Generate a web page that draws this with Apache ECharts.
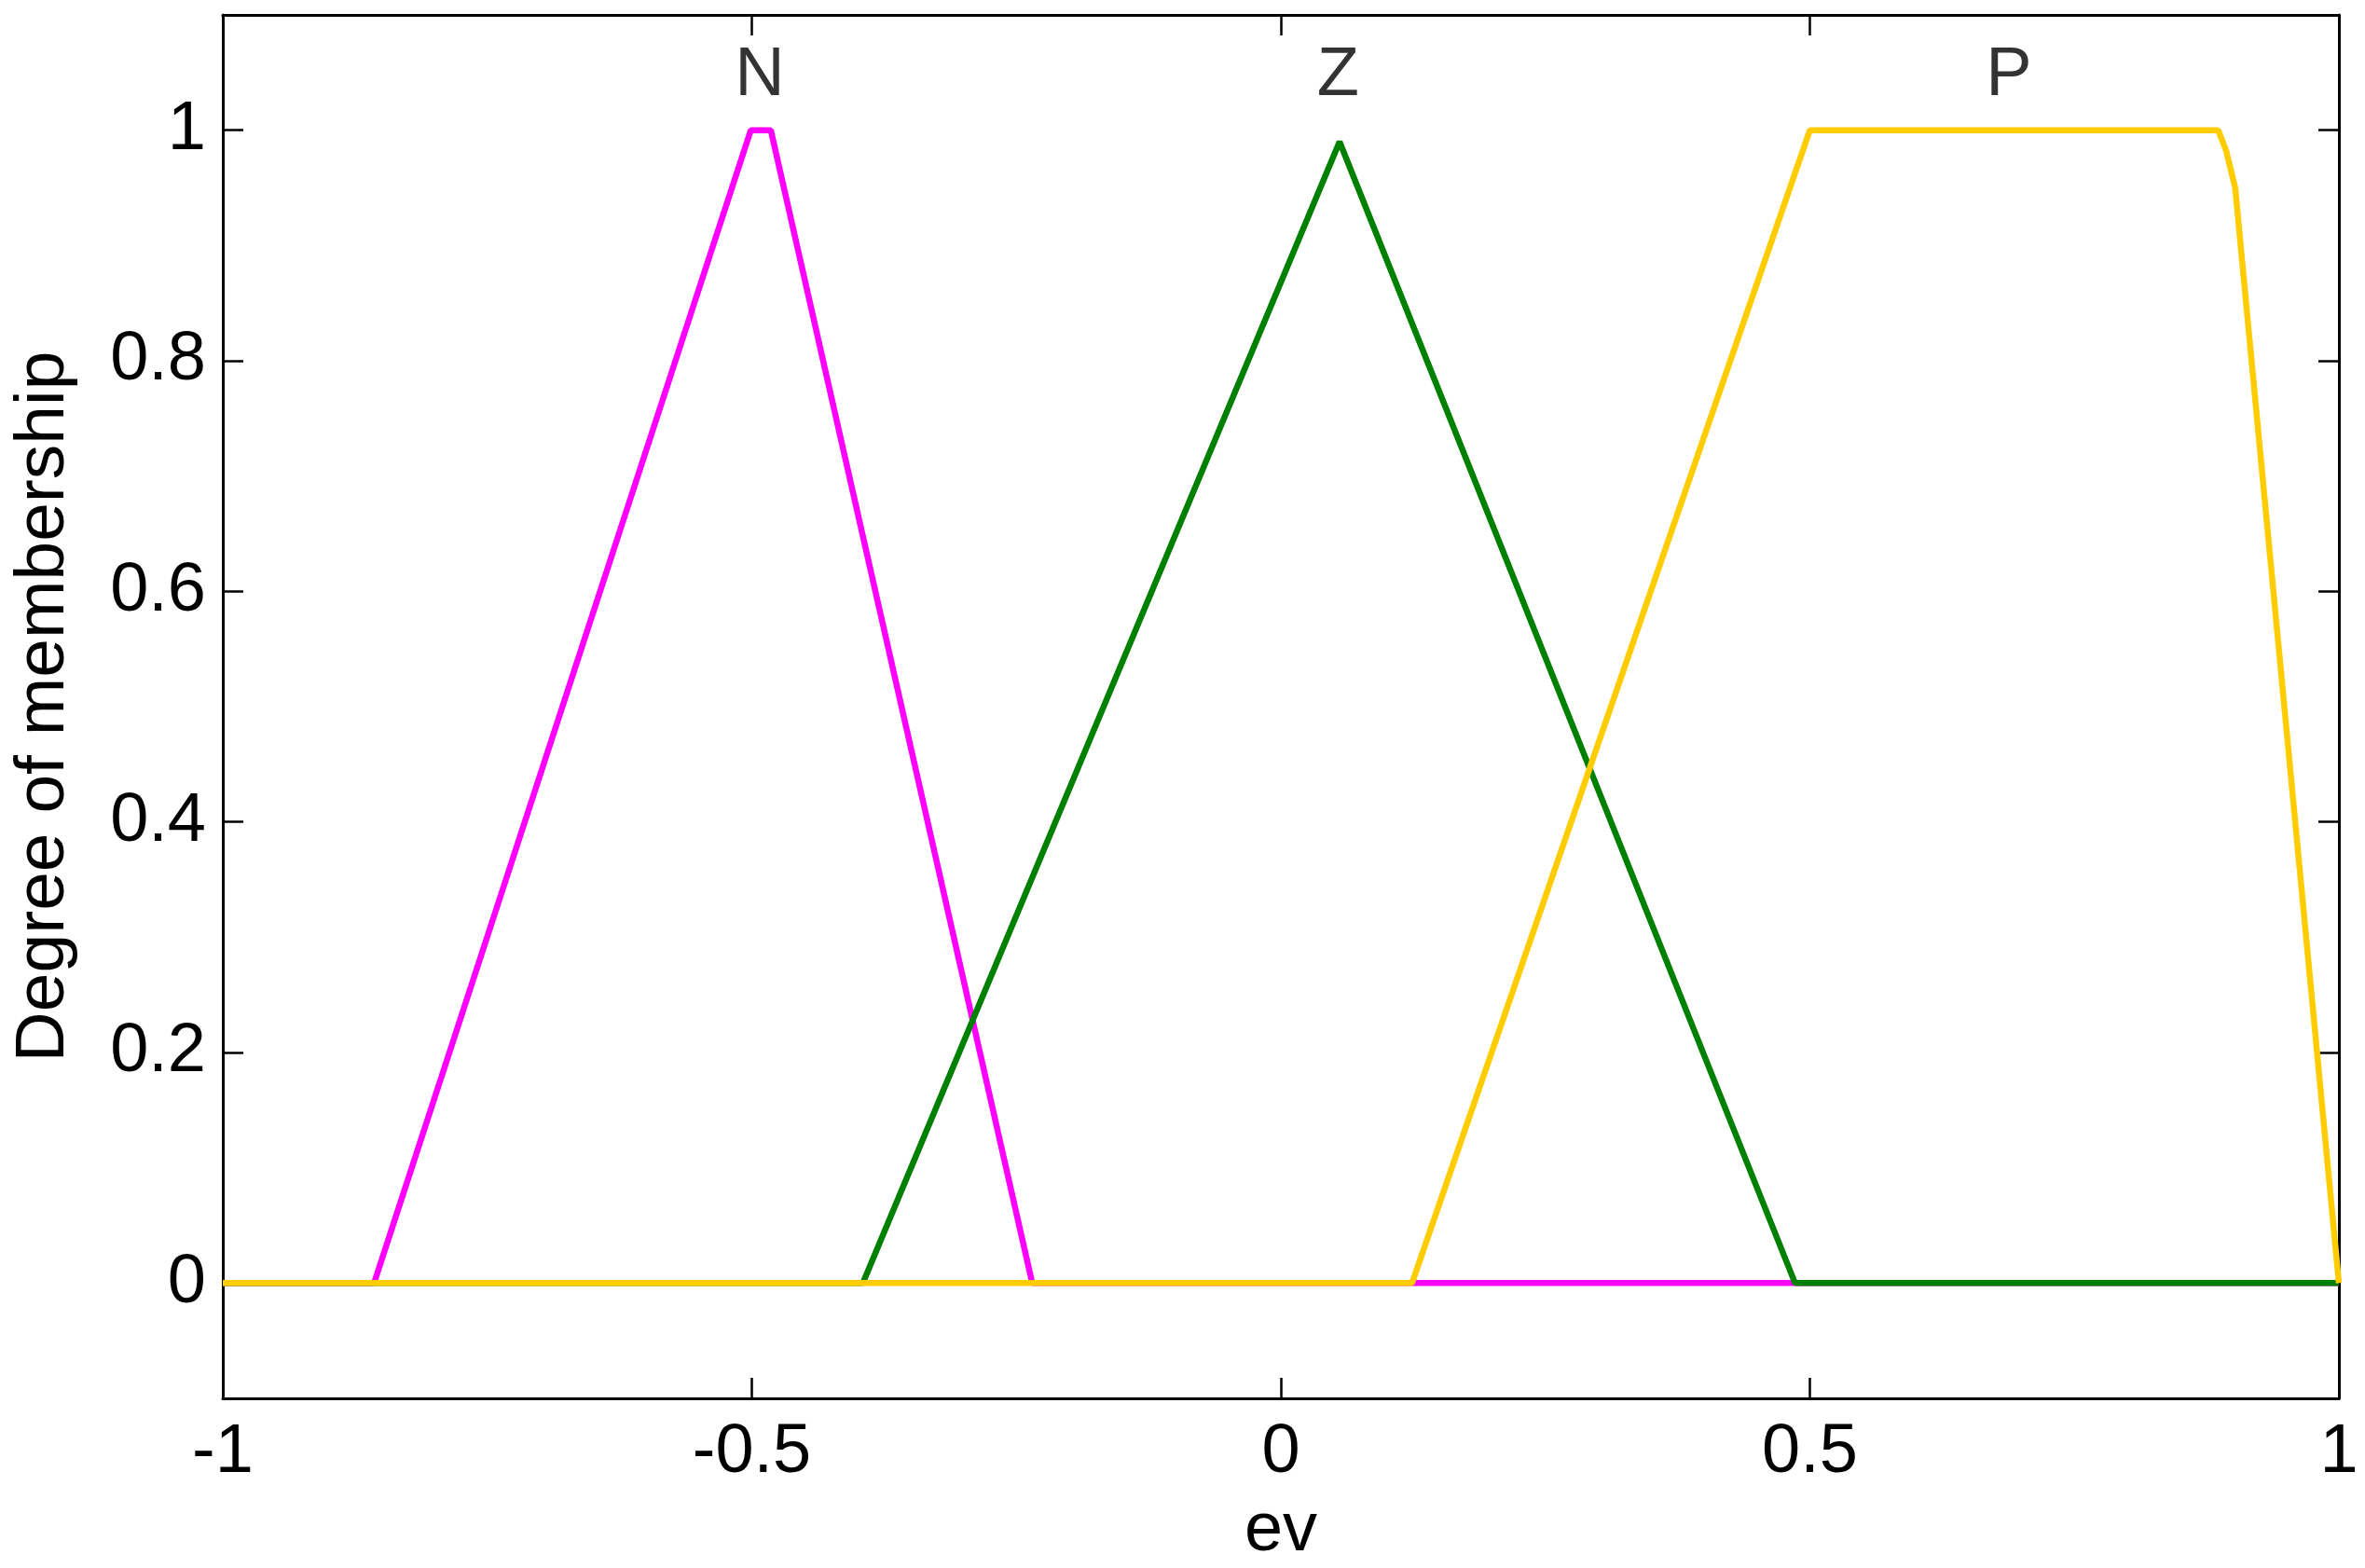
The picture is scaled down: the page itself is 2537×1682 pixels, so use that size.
<!DOCTYPE html>
<html>
<head>
<meta charset="utf-8">
<title>Membership functions ev</title>
<script src="https://cdn.jsdelivr.net/npm/echarts@6.0.0/dist/echarts.min.js"></script>
<style>
  html, body { margin: 0; padding: 0; background: #fff; }
  #chart { width: 2537px; height: 1682px; }
</style>
</head>
<body>
<div id="chart"></div>
<script>
// membership function vertices
const nX = [-1, -0.857, -0.501, -0.482, -0.235, 1]
const nY = [0, 0, 1, 1, 0, 0]
const zX = [-1, -0.395, 0.0555, 0.486, 1]
const zY = [0, 0, 0.99, 0, 0]
const pX = [-1, 0.124, 0.5, 0.886, 0.8935, 0.902, 1]
const pY = [0, 0, 1, 1, 0.982, 0.95, 0]

// names shown above each function
const mfNames = ['N', 'Z', 'P']
const mfLabelX = [-0.4925, 0.054, 0.688]
const mfLabelY = 1.047

const yTicks = [0, 0.2, 0.4, 0.6, 0.8, 1]

const font = 'Arial, "Liberation Sans", sans-serif'
const fontSize = 74

const toPairs = (xs, ys) => xs.map((x, i) => [x, ys[i]])

const lineSeries = (name, xs, ys, color, z) => ({
  name: name,
  type: 'line',
  data: toPairs(xs, ys),
  showSymbol: false,
  symbol: 'none',
  z: z,
  lineStyle: { color: color, width: 6.5 },
  emphasis: { disabled: true },
  animation: false
})

const axisLine = { show: true, onZero: false, lineStyle: { color: '#000', width: 3 } }
const tickStyle = { color: '#000', width: 2.5 }

const initChart = () => {
  const chart = echarts.init(document.getElementById('chart'))
  const option = {
    backgroundColor: '#fff',
    animation: false,
    grid: { left: 239, right: 28, top: 16, bottom: 182, outerBoundsMode: 'none' },
    xAxis: [
      {
        type: 'value',
        min: -1,
        max: 1,
        interval: 0.5,
        position: 'bottom',
        name: 'ev',
        nameLocation: 'middle',
        nameGap: 106,
        nameTextStyle: { color: '#000', fontSize: fontSize, fontFamily: font },
        axisLine: axisLine,
        axisTick: { show: true, inside: true, length: 22, lineStyle: tickStyle },
        axisLabel: { color: '#000', fontSize: fontSize, fontFamily: font, margin: 22 },
        splitLine: { show: false }
      },
      {
        type: 'value',
        min: -1,
        max: 1,
        interval: 0.5,
        position: 'top',
        axisLine: axisLine,
        axisTick: { show: true, inside: true, length: 22, lineStyle: tickStyle },
        axisLabel: { show: false },
        splitLine: { show: false }
      }
    ],
    yAxis: [
      {
        type: 'value',
        min: -0.1,
        max: 1.1,
        position: 'left',
        name: 'Degree of membership',
        nameLocation: 'middle',
        nameGap: 154,
        nameTextStyle: { color: '#000', fontSize: 75, fontFamily: font },
        axisLine: axisLine,
        axisTick: { show: true, inside: true, length: 22, lineStyle: tickStyle, customValues: yTicks },
        axisLabel: { color: '#000', fontSize: fontSize, fontFamily: font, margin: 18, customValues: yTicks },
        splitLine: { show: false }
      },
      {
        type: 'value',
        min: -0.1,
        max: 1.1,
        position: 'right',
        axisLine: axisLine,
        axisTick: { show: true, inside: true, length: 22, lineStyle: tickStyle, customValues: yTicks },
        axisLabel: { show: false },
        splitLine: { show: false }
      }
    ],
    series: [
      lineSeries('N', nX, nY, '#ff00ff', 2),
      lineSeries('Z', zX, zY, '#008000', 3),
      lineSeries('P', pX, pY, '#ffcc00', 4),
      {
        type: 'scatter',
        symbolSize: 0,
        z: 5,
        silent: true,
        data: mfNames.map((n, i) => ({ name: n, value: [mfLabelX[i], mfLabelY] })),
        label: {
          show: true,
          position: 'inside',
          formatter: '{b}',
          color: '#000',
          textBorderWidth: 0,
          fontSize: fontSize,
          fontFamily: font
        },
        animation: false
      }
    ]
  }
  chart.setOption(option)
}

initChart()
</script>
</body>
</html>
